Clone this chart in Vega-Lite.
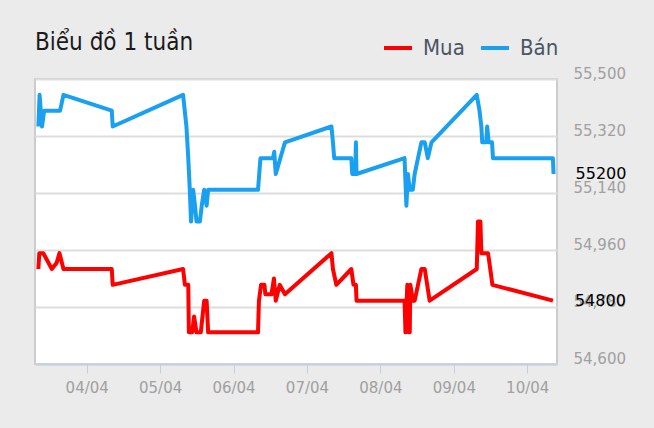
{
  "$schema": "https://vega.github.io/schema/vega-lite/v6.json",
  "autosize": {"type": "none"},
  "width": 522,
  "height": 285,
  "padding": {"left": 35, "top": 79, "right": 97, "bottom": 64},
  "background": "#ebebeb",
  "config": {
    "font": "DejaVu Sans",
    "view": {"stroke": "#cccccc", "strokeWidth": 2, "fill": "white"},
    "title": {
      "font": "Liberation Sans Narrow, DejaVu Sans Condensed, Roboto",
      "fontSize": 24,
      "fontWeight": "normal",
      "color": "#1a1a1a",
      "anchor": "start",
      "offset": -23
    },
    "axis": {"labelFont": "DejaVu Sans", "labelFontSize": 15, "labelColor": "#a0a0a0", "title": null},
    "legend": {"labelFont": "Liberation Sans Narrow, DejaVu Sans Condensed, Roboto"}
  },
  "title": "Biểu đồ 1 tuần",
  "data": {
    "values": [
      {"t": "2024-04-03T08:12:00Z", "s": "Bán", "v": 55350},
      {"t": "2024-04-03T08:36:00Z", "s": "Bán", "v": 55450},
      {"t": "2024-04-03T09:24:00Z", "s": "Bán", "v": 55350},
      {"t": "2024-04-03T10:06:00Z", "s": "Bán", "v": 55400},
      {"t": "2024-04-03T15:18:00Z", "s": "Bán", "v": 55400},
      {"t": "2024-04-03T16:24:00Z", "s": "Bán", "v": 55450},
      {"t": "2024-04-04T08:12:00Z", "s": "Bán", "v": 55400},
      {"t": "2024-04-04T08:30:00Z", "s": "Bán", "v": 55350},
      {"t": "2024-04-05T07:30:00Z", "s": "Bán", "v": 55450},
      {"t": "2024-04-05T08:36:00Z", "s": "Bán", "v": 55350},
      {"t": "2024-04-05T09:12:00Z", "s": "Bán", "v": 55250},
      {"t": "2024-04-05T09:42:00Z", "s": "Bán", "v": 55150},
      {"t": "2024-04-05T10:06:00Z", "s": "Bán", "v": 55050},
      {"t": "2024-04-05T10:48:00Z", "s": "Bán", "v": 55150},
      {"t": "2024-04-05T11:24:00Z", "s": "Bán", "v": 55100},
      {"t": "2024-04-05T11:54:00Z", "s": "Bán", "v": 55050},
      {"t": "2024-04-05T13:00:00Z", "s": "Bán", "v": 55050},
      {"t": "2024-04-05T13:36:00Z", "s": "Bán", "v": 55100},
      {"t": "2024-04-05T14:24:00Z", "s": "Bán", "v": 55150},
      {"t": "2024-04-05T15:12:00Z", "s": "Bán", "v": 55100},
      {"t": "2024-04-05T15:42:00Z", "s": "Bán", "v": 55150},
      {"t": "2024-04-06T08:00:00Z", "s": "Bán", "v": 55150},
      {"t": "2024-04-06T08:24:00Z", "s": "Bán", "v": 55200},
      {"t": "2024-04-06T08:48:00Z", "s": "Bán", "v": 55250},
      {"t": "2024-04-06T12:54:00Z", "s": "Bán", "v": 55250},
      {"t": "2024-04-06T13:18:00Z", "s": "Bán", "v": 55270},
      {"t": "2024-04-06T13:48:00Z", "s": "Bán", "v": 55200},
      {"t": "2024-04-06T16:48:00Z", "s": "Bán", "v": 55300},
      {"t": "2024-04-07T08:00:00Z", "s": "Bán", "v": 55350},
      {"t": "2024-04-07T08:30:00Z", "s": "Bán", "v": 55300},
      {"t": "2024-04-07T08:54:00Z", "s": "Bán", "v": 55250},
      {"t": "2024-04-07T14:30:00Z", "s": "Bán", "v": 55250},
      {"t": "2024-04-07T14:48:00Z", "s": "Bán", "v": 55200},
      {"t": "2024-04-07T15:48:00Z", "s": "Bán", "v": 55200},
      {"t": "2024-04-07T16:00:00Z", "s": "Bán", "v": 55300},
      {"t": "2024-04-07T16:12:00Z", "s": "Bán", "v": 55200},
      {"t": "2024-04-08T07:54:00Z", "s": "Bán", "v": 55250},
      {"t": "2024-04-08T08:30:00Z", "s": "Bán", "v": 55100},
      {"t": "2024-04-08T09:00:00Z", "s": "Bán", "v": 55200},
      {"t": "2024-04-08T09:36:00Z", "s": "Bán", "v": 55150},
      {"t": "2024-04-08T10:36:00Z", "s": "Bán", "v": 55150},
      {"t": "2024-04-08T11:12:00Z", "s": "Bán", "v": 55200},
      {"t": "2024-04-08T12:18:00Z", "s": "Bán", "v": 55250},
      {"t": "2024-04-08T13:24:00Z", "s": "Bán", "v": 55300},
      {"t": "2024-04-08T14:30:00Z", "s": "Bán", "v": 55300},
      {"t": "2024-04-08T15:30:00Z", "s": "Bán", "v": 55250},
      {"t": "2024-04-08T16:42:00Z", "s": "Bán", "v": 55300},
      {"t": "2024-04-09T07:30:00Z", "s": "Bán", "v": 55450},
      {"t": "2024-04-09T08:24:00Z", "s": "Bán", "v": 55400},
      {"t": "2024-04-09T09:00:00Z", "s": "Bán", "v": 55350},
      {"t": "2024-04-09T09:18:00Z", "s": "Bán", "v": 55300},
      {"t": "2024-04-09T10:36:00Z", "s": "Bán", "v": 55300},
      {"t": "2024-04-09T10:54:00Z", "s": "Bán", "v": 55350},
      {"t": "2024-04-09T11:24:00Z", "s": "Bán", "v": 55300},
      {"t": "2024-04-09T12:30:00Z", "s": "Bán", "v": 55300},
      {"t": "2024-04-09T12:48:00Z", "s": "Bán", "v": 55250},
      {"t": "2024-04-10T08:24:00Z", "s": "Bán", "v": 55250},
      {"t": "2024-04-10T08:36:00Z", "s": "Bán", "v": 55200},
      {"t": "2024-04-03T08:12:00Z", "s": "Mua", "v": 54900},
      {"t": "2024-04-03T08:30:00Z", "s": "Mua", "v": 54950},
      {"t": "2024-04-03T09:48:00Z", "s": "Mua", "v": 54950},
      {"t": "2024-04-03T11:30:00Z", "s": "Mua", "v": 54920},
      {"t": "2024-04-03T12:36:00Z", "s": "Mua", "v": 54900},
      {"t": "2024-04-03T14:12:00Z", "s": "Mua", "v": 54920},
      {"t": "2024-04-03T15:06:00Z", "s": "Mua", "v": 54950},
      {"t": "2024-04-03T16:24:00Z", "s": "Mua", "v": 54900},
      {"t": "2024-04-04T08:12:00Z", "s": "Mua", "v": 54900},
      {"t": "2024-04-04T08:30:00Z", "s": "Mua", "v": 54850},
      {"t": "2024-04-05T07:30:00Z", "s": "Mua", "v": 54900},
      {"t": "2024-04-05T08:06:00Z", "s": "Mua", "v": 54850},
      {"t": "2024-04-05T09:12:00Z", "s": "Mua", "v": 54850},
      {"t": "2024-04-05T09:24:00Z", "s": "Mua", "v": 54700},
      {"t": "2024-04-05T10:30:00Z", "s": "Mua", "v": 54700},
      {"t": "2024-04-05T11:06:00Z", "s": "Mua", "v": 54750},
      {"t": "2024-04-05T11:54:00Z", "s": "Mua", "v": 54700},
      {"t": "2024-04-05T13:18:00Z", "s": "Mua", "v": 54700},
      {"t": "2024-04-05T14:24:00Z", "s": "Mua", "v": 54800},
      {"t": "2024-04-05T15:12:00Z", "s": "Mua", "v": 54800},
      {"t": "2024-04-05T15:42:00Z", "s": "Mua", "v": 54700},
      {"t": "2024-04-06T08:00:00Z", "s": "Mua", "v": 54700},
      {"t": "2024-04-06T08:18:00Z", "s": "Mua", "v": 54800},
      {"t": "2024-04-06T09:00:00Z", "s": "Mua", "v": 54850},
      {"t": "2024-04-06T10:06:00Z", "s": "Mua", "v": 54850},
      {"t": "2024-04-06T10:24:00Z", "s": "Mua", "v": 54820},
      {"t": "2024-04-06T12:24:00Z", "s": "Mua", "v": 54820},
      {"t": "2024-04-06T13:12:00Z", "s": "Mua", "v": 54870},
      {"t": "2024-04-06T13:48:00Z", "s": "Mua", "v": 54800},
      {"t": "2024-04-06T15:06:00Z", "s": "Mua", "v": 54850},
      {"t": "2024-04-06T16:48:00Z", "s": "Mua", "v": 54820},
      {"t": "2024-04-07T08:00:00Z", "s": "Mua", "v": 54950},
      {"t": "2024-04-07T08:30:00Z", "s": "Mua", "v": 54900},
      {"t": "2024-04-07T09:36:00Z", "s": "Mua", "v": 54850},
      {"t": "2024-04-07T14:30:00Z", "s": "Mua", "v": 54900},
      {"t": "2024-04-07T15:12:00Z", "s": "Mua", "v": 54850},
      {"t": "2024-04-07T16:00:00Z", "s": "Mua", "v": 54850},
      {"t": "2024-04-07T16:12:00Z", "s": "Mua", "v": 54800},
      {"t": "2024-04-08T07:54:00Z", "s": "Mua", "v": 54800},
      {"t": "2024-04-08T08:12:00Z", "s": "Mua", "v": 54700},
      {"t": "2024-04-08T08:48:00Z", "s": "Mua", "v": 54850},
      {"t": "2024-04-08T09:18:00Z", "s": "Mua", "v": 54700},
      {"t": "2024-04-08T09:36:00Z", "s": "Mua", "v": 54700},
      {"t": "2024-04-08T09:48:00Z", "s": "Mua", "v": 54850},
      {"t": "2024-04-08T10:36:00Z", "s": "Mua", "v": 54800},
      {"t": "2024-04-08T11:12:00Z", "s": "Mua", "v": 54800},
      {"t": "2024-04-08T12:18:00Z", "s": "Mua", "v": 54850},
      {"t": "2024-04-08T13:24:00Z", "s": "Mua", "v": 54900},
      {"t": "2024-04-08T14:30:00Z", "s": "Mua", "v": 54900},
      {"t": "2024-04-08T16:06:00Z", "s": "Mua", "v": 54800},
      {"t": "2024-04-09T07:30:00Z", "s": "Mua", "v": 54900},
      {"t": "2024-04-09T07:54:00Z", "s": "Mua", "v": 55050},
      {"t": "2024-04-09T08:42:00Z", "s": "Mua", "v": 55050},
      {"t": "2024-04-09T09:00:00Z", "s": "Mua", "v": 54950},
      {"t": "2024-04-09T11:12:00Z", "s": "Mua", "v": 54950},
      {"t": "2024-04-09T12:12:00Z", "s": "Mua", "v": 54880},
      {"t": "2024-04-09T12:36:00Z", "s": "Mua", "v": 54850},
      {"t": "2024-04-10T08:24:00Z", "s": "Mua", "v": 54800}
    ]
  },
  "encoding": {
    "x": {
      "field": "t",
      "type": "temporal",
      "scale": {
        "type": "utc",
        "domain": [
          {"year": 2024, "month": 4, "date": 3, "hours": 7, "minutes": 6, "utc": true},
          {"year": 2024, "month": 4, "date": 10, "hours": 9, "minutes": 44, "utc": true}
        ]
      },
      "axis": {
        "format": "%d/%m",
        "values": [
          {"year": 2024, "month": 4, "date": 4, "utc": true},
          {"year": 2024, "month": 4, "date": 5, "utc": true},
          {"year": 2024, "month": 4, "date": 6, "utc": true},
          {"year": 2024, "month": 4, "date": 7, "utc": true},
          {"year": 2024, "month": 4, "date": 8, "utc": true},
          {"year": 2024, "month": 4, "date": 9, "utc": true},
          {"year": 2024, "month": 4, "date": 10, "utc": true}
        ],
        "grid": false,
        "domainColor": "#c3d0e0",
        "domainWidth": 2,
        "tickColor": "#c3d0e0",
        "tickSize": 9,
        "labelPadding": 7,
        "labelFlush": false
      }
    },
    "y": {
      "field": "v",
      "type": "quantitative",
      "scale": {"domain": [54600, 55500], "nice": false, "zero": false},
      "axis": {
        "orient": "right",
        "values": [54600, 54780, 54960, 55140, 55320, 55500],
        "format": ",d",
        "domain": false,
        "ticks": false,
        "grid": true,
        "gridColor": "#dddddd",
        "gridWidth": 2,
        "labelBaseline": "alphabetic",
        "labelOffset": -1,
        "labelPadding": 16
      }
    }
  },
  "layer": [
    {
      "mark": {"type": "line", "strokeWidth": 4, "strokeJoin": "round"},
      "encoding": {
        "color": {
          "field": "s",
          "type": "nominal",
          "scale": {"domain": ["Mua", "Bán"], "range": ["#ff0000", "#1aa0f0"]},
          "legend": {
            "title": null,
            "orient": "none",
            "direction": "horizontal",
            "legendX": 347,
            "legendY": -47,
            "symbolType": "stroke",
            "symbolStrokeWidth": 4,
            "symbolSize": 784,
            "labelFontSize": 22,
            "labelColor": "#4a5566",
            "labelOffset": 9,
            "columnPadding": 8
          }
        }
      }
    },
    {
      "transform": [
        {"window": [{"op": "row_number", "as": "rn"}], "groupby": ["s"], "sort": [{"field": "t", "order": "descending"}]},
        {"filter": "datum.rn == 1"}
      ],
      "mark": {"type": "text", "align": "left", "baseline": "middle", "dx": 22, "fontSize": 16, "font": "DejaVu Sans", "color": "black"},
      "encoding": {
        "text": {"field": "v", "type": "quantitative", "format": "d"}
      }
    }
  ]
}
